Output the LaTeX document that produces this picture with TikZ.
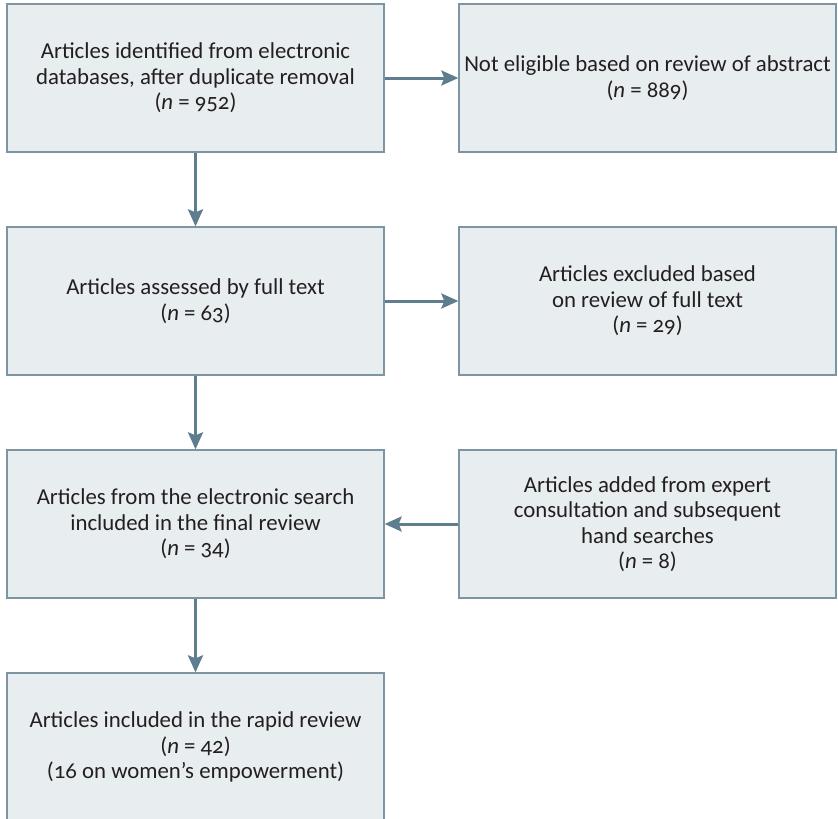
\documentclass[tikz,border=0pt]{standalone}
\usepackage{fontspec}
\setmainfont{Carlito}[Numbers=OldStyle]
\usetikzlibrary{arrows.meta}
\definecolor{boxfill}{HTML}{E8EDF0}
\definecolor{boxline}{HTML}{7D95A3}
\definecolor{arrowcol}{HTML}{5E7D8D}
\definecolor{txt}{HTML}{231F20}
\tikzset{
  flowbox/.style={draw=boxline, fill=boxfill, line width=1.3pt,
    minimum width=377pt, minimum height=148pt, inner sep=0pt,
    align=center, text=txt, font=\fontsize{22.8}{25.5}\selectfont},
  flowarrow/.style={draw=arrowcol, line width=3pt,
    -{Stealth[length=17pt,width=15pt,inset=3pt]}}
}
\begin{document}
\begin{tikzpicture}[x=1pt,y=-1pt]
\useasboundingbox (0,0) rectangle (838,819);
\node[flowbox] (a) at (195.5,78) {Articles identified from electronic\\databases, after duplicate removal\\(\textit{n} = 952)};
\node[flowbox] (b) at (647.5,78) {Not eligible based on review of abstract\\(\textit{n} = 889)};
\node[flowbox] (c) at (195.5,301) {Articles assessed by full text\\(\textit{n} = 63)};
\node[flowbox] (d) at (647.5,301) {Articles excluded based\\on review of full text\\(\textit{n} = 29)};
\node[flowbox] (e) at (195.5,524) {Articles from the electronic search\\included in the final review\\(\textit{n} = 34)};
\node[flowbox] (f) at (647.5,524) {Articles added from expert\\consultation and subsequent\\hand searches\\(\textit{n} = 8)};
\node[flowbox] (g) at (195.5,747) {Articles included in the rapid review\\(\textit{n} = 42)\\(16 on women’s empowerment)};
\draw[flowarrow] (a.east) -- (b.west);
\draw[flowarrow] (c.east) -- (d.west);
\draw[flowarrow] (f.west) -- (e.east);
\draw[flowarrow] (a.south) -- (c.north);
\draw[flowarrow] (c.south) -- (e.north);
\draw[flowarrow] (e.south) -- (g.north);
\end{tikzpicture}
\end{document}
